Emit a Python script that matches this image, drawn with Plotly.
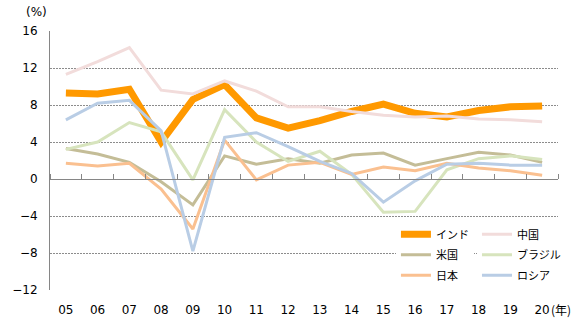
import plotly.graph_objects as go

years = ["05", "06", "07", "08", "09", "10", "11", "12", "13", "14", "15", "16", "17", "18", "19", "20"]

india = [9.3, 9.2, 9.7, 4.0, 8.6, 10.2, 6.6, 5.5, 6.3, 7.3, 8.1, 7.1, 6.7, 7.4, 7.8, 7.9]
china = [11.3, 12.7, 14.2, 9.6, 9.2, 10.6, 9.5, 7.8, 7.8, 7.3, 6.9, 6.7, 6.8, 6.5, 6.4, 6.2]
usa = [3.3, 2.7, 1.8, -0.3, -2.8, 2.5, 1.6, 2.2, 1.7, 2.6, 2.8, 1.5, 2.2, 2.9, 2.6, 1.8]
brazil = [3.2, 4.0, 6.1, 5.1, -0.1, 7.5, 4.0, 1.9, 3.0, 0.5, -3.6, -3.5, 1.0, 2.2, 2.5, 2.1]
japan = [1.7, 1.4, 1.7, -1.1, -5.4, 4.2, -0.1, 1.5, 1.8, 0.5, 1.3, 0.9, 1.7, 1.2, 0.9, 0.4]
russia = [6.4, 8.2, 8.5, 5.2, -7.8, 4.5, 5.0, 3.5, 1.9, 0.6, -2.5, -0.2, 1.6, 1.7, 1.5, 1.5]

series = [
    ("インド", india, "#FF9900", 7, "legend"),
    ("中国", china, "#F2DCDB", 3, "legend2"),
    ("米国", usa, "#C4BD97", 3, "legend"),
    ("ブラジル", brazil, "#D7E4BD", 3, "legend2"),
    ("日本", japan, "#FAC090", 3, "legend"),
    ("ロシア", russia, "#B9CDE5", 3, "legend2"),
]

FONT = "DejaVu Sans, Noto Sans CJK JP, sans-serif"
JFONT = "Noto Sans CJK JP, DejaVu Sans, sans-serif"
AXC = "#868686"

fig = go.Figure()
for name, vals, color, w, lg in series:
    fig.add_trace(go.Scatter(
        x=years, y=vals, mode="lines", name=name,
        line=dict(color=color, width=w),
        legend=lg, legendgroup=name, hoverinfo="skip",
    ))

# helper trace so the category axis at y=0 (with boundary ticks) is drawn
fig.add_trace(go.Scatter(x=[], y=[], xaxis="x2", showlegend=False, hoverinfo="skip"))

fig.update_layout(
    width=578, height=329,
    margin=dict(l=32, r=13, t=31, b=36),
    paper_bgcolor="white", plot_bgcolor="white",
    font=dict(family=FONT, size=12, color="#000000"),
    showlegend=True,
    xaxis=dict(
        type="category", range=[-0.5, 15.5],
        showgrid=False, showline=False, zeroline=False, ticks="",
        tickfont=dict(size=12), ticklabelstandoff=11,
    ),
    xaxis2=dict(
        overlaying="x", anchor="free", position=12 / 28, side="top",
        range=[-0.5, 15.5], tick0=-0.5, dtick=1,
        showgrid=False, zeroline=False, showticklabels=False,
        showline=True, linecolor=AXC, linewidth=1,
        ticks="outside", ticklen=5, tickcolor=AXC, tickwidth=1,
    ),
    yaxis=dict(
        range=[-12, 16], dtick=4, tick0=0,
        showgrid=True, gridcolor="#8c8c8c", gridwidth=1, griddash="2px,1px",
        zeroline=True, zerolinecolor=AXC, zerolinewidth=1,
        showline=True, linecolor=AXC, linewidth=1,
        ticks="", tickfont=dict(size=12), ticklabelstandoff=9,
    ),
    legend=dict(
        x=0.681, y=0.271, xanchor="left", yanchor="top",
        bgcolor="white", borderwidth=0, tracegroupgap=1.5,
        font=dict(family=JFONT, size=11), itemwidth=30,
    ),
    legend2=dict(
        x=0.8405, y=0.271, xanchor="left", yanchor="top",
        bgcolor="white", borderwidth=0, tracegroupgap=1.5,
        font=dict(family=JFONT, size=11), itemwidth=30,
    ),
    annotations=[
        dict(text="(%)", xref="paper", yref="paper", x=-0.052, y=1.0725,
             xanchor="left", yanchor="middle", showarrow=False,
             font=dict(family=FONT, size=12)),
        dict(text="(年)", xref="paper", yref="paper", x=0.982, y=-0.074,
             xanchor="left", yanchor="middle", showarrow=False,
             font=dict(family=JFONT, size=12)),
    ],
)

fig.write_html("out.html", config={"displayModeBar": False})
